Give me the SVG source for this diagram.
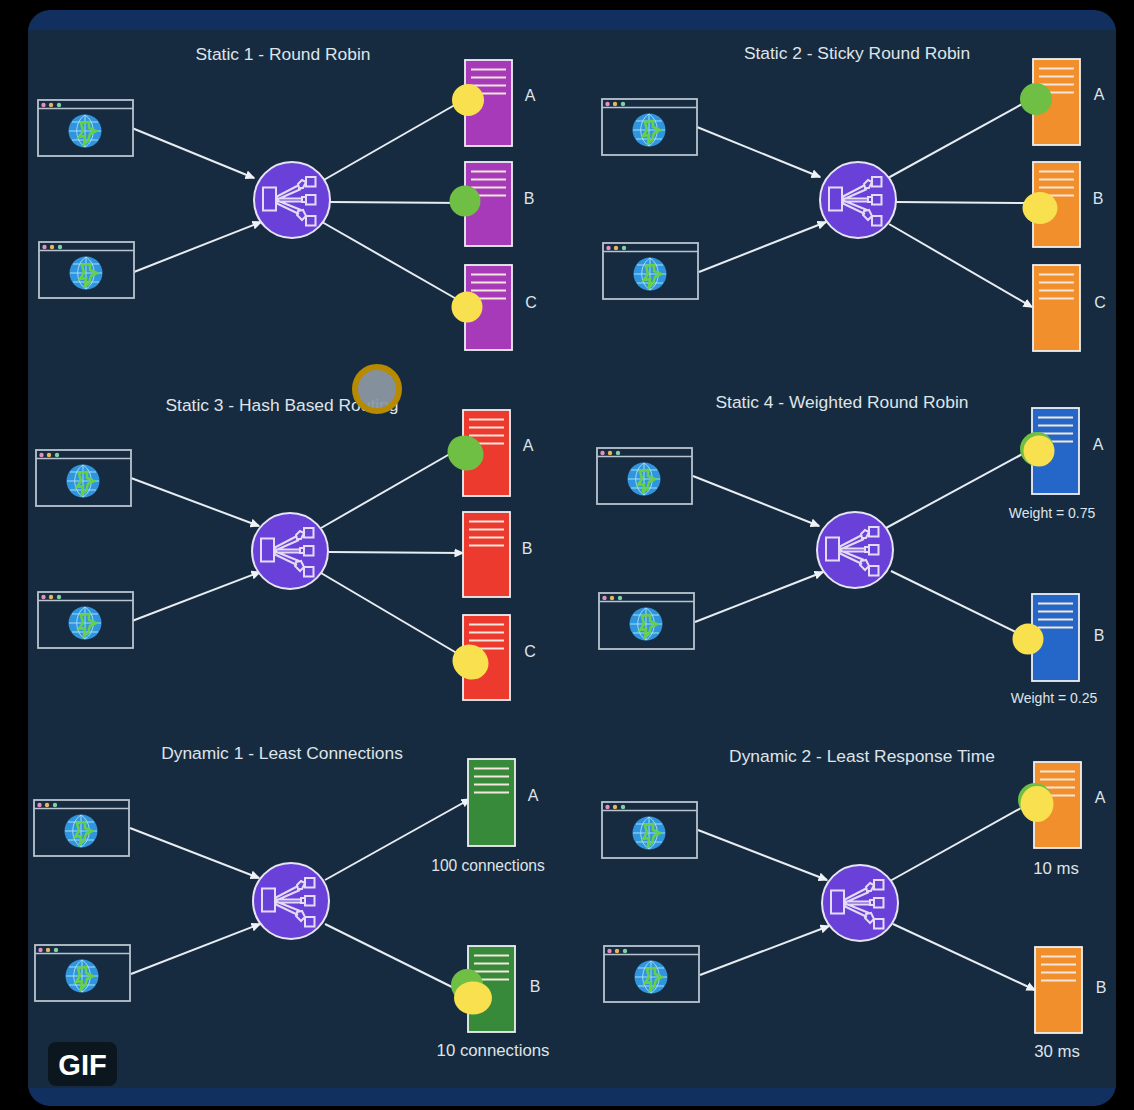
<svg xmlns="http://www.w3.org/2000/svg" xmlns:xlink="http://www.w3.org/1999/xlink" width="1134" height="1110" viewBox="0 0 1134 1110">
<style>
text{font-family:"Liberation Sans",Arial,sans-serif;fill:#dfe4e9}
.t{font-size:17.400px;text-anchor:middle}
.l{font-size:16px;text-anchor:middle}
.s{font-size:14px;text-anchor:middle}
.n{font-size:15.600px;text-anchor:middle}
.m{font-size:16.800px;text-anchor:middle}
.c{fill:none;stroke:#e8edf2;stroke-width:2;marker-end:url(#a)}
.p{fill:none;stroke:#e8edf2;stroke-width:2}
.b{fill:#172b40;stroke:#b9c4cf;stroke-width:1.800}
.sv{stroke:#eef0f2;stroke-width:1.800}
.ln{stroke:#f6e6dc;stroke-width:2;fill:none}
.y{fill:#f8e04e}.g{fill:#70bf45}
</style>
<defs>
<marker id="a" markerWidth="10" markerHeight="9" refX="8.500" refY="4.500" orient="auto" markerUnits="userSpaceOnUse"><path d="M0 0L10 4.500L0 9Z" fill="#eef2f6"/></marker>
<g id="browser">
<rect class="b" width="95" height="56"/>
<path d="M0 8.500H95" stroke="#b9c4cf" stroke-width="1.600"/>
<circle cx="5.500" cy="5" r="2.200" fill="#e58fc0"/><circle cx="13" cy="5" r="2.200" fill="#e8b65c"/><circle cx="21" cy="5" r="2.200" fill="#7fd0a8"/>
<circle cx="47" cy="31" r="16.500" fill="#2f95de"/>
<path d="M31 31H63M34 22H60M34 40H60M47 15V47M47 15C36 22 36 40 47 47M47 15C58 22 58 40 47 47" fill="none" stroke="#a5dcf5" stroke-width="1"/>
<path d="M43 23L51 22L51 28L58 31L52 34L50 41L46 44L47 36L41 37L45 31Z" fill="none" stroke="#67d04a" stroke-width="2.600"/>
</g>
<g id="lb">
<circle r="38" fill="#6a41d8" stroke="#e6e4f2" stroke-width="2"/>
<g fill="none" stroke="#e4dcf6" stroke-width="2">
<rect x="-29" y="-12.500" width="13" height="23"/>
<rect x="14" y="-23" width="9.500" height="9.500"/><rect x="14" y="-5" width="9.500" height="9.500"/><rect x="14" y="16" width="9.500" height="9.500"/>
<path d="M-16 -3L7 -15M-16 0L9 -11M-16 -1.500H10M-16 1.500H10M-16 0L9 10M-16 3L7 14"/>
<path d="M6 -16L10 -20L14 -18L11 -12L7 -12ZM10 -3H14V2H10ZM6 11L11 10L14 16L10 20L5 15Z"/>
</g>
</g>
<g id="lines"><path class="ln" d="M6 9.500H41M6 17.500H41M6 25.500H41M6 33.500H41"/></g>
</defs>
<rect width="1134" height="1110" fill="#000"/>
<rect x="28" y="10" width="1088" height="1096" rx="22" fill="#12305f"/>
<rect x="28" y="30" width="1088" height="1058" fill="#172b40"/>

<g id="connectors">
<path class="c" d="M132 128L254 178"/><path class="c" d="M134 272L261 222"/><path class="p" d="M322 181L460 102"/><path class="p" d="M330 202L465 203"/><path class="p" d="M322 222L460 301"/>
<path class="c" d="M697 127L820 177"/><path class="c" d="M699 272L826 222"/><path class="p" d="M888 178L1024 103"/><path class="p" d="M896 202L1030 203"/><path class="c" d="M889 224L1032 307"/>
<path class="c" d="M131 478L259 526"/><path class="c" d="M132 621L260 572"/><path class="p" d="M321 528L455 451"/><path class="c" d="M329 552L463 553"/><path class="p" d="M321 573L460 655"/>
<path class="c" d="M693 476L819 526"/><path class="c" d="M695 622L823 572"/><path class="p" d="M886 528L1028 451"/><path class="p" d="M891 571L1020 634"/>
<path class="c" d="M130 828L259 878"/><path class="c" d="M131 974L260 924"/><path class="c" d="M325 880L470 799"/><path class="p" d="M325 924L460 991"/>
<path class="c" d="M698 830L827 880"/><path class="c" d="M700 975L829 926"/><path class="p" d="M890 881L1030 803"/><path class="c" d="M893 924L1035 990"/>
</g>

<g id="panel1">
<text class="t" x="283" y="60">Static 1 - Round Robin</text>
<g id="p1-client1"><use href="#browser" x="38" y="100"/></g>
<g id="p1-client2"><use href="#browser" x="39" y="242"/></g>
<g id="p1-lb"><use href="#lb" x="292" y="200"/></g>
<g id="p1-a"><rect class="sv" x="465" y="60" width="47" height="86" fill="#a63ab8"/><use href="#lines" x="465" y="60"/><text class="l" x="530" y="101">A</text><circle class="y" cx="468" cy="100" r="16"/></g>
<g id="p1-b"><rect class="sv" x="465" y="162" width="47" height="84" fill="#a63ab8"/><use href="#lines" x="465" y="162"/><text class="l" x="529" y="204">B</text><circle class="g" cx="465" cy="201" r="15.500"/></g>
<g id="p1-c"><rect class="sv" x="465" y="265" width="47" height="85" fill="#a63ab8"/><use href="#lines" x="465" y="265"/><text class="l" x="531" y="308">C</text><circle class="y" cx="467" cy="307" r="15.500"/></g>
</g>

<g id="panel2">
<text class="t" x="857" y="59">Static 2 - Sticky Round Robin</text>
<g id="p2-client1"><use href="#browser" x="602" y="99"/></g>
<g id="p2-client2"><use href="#browser" x="603" y="243"/></g>
<g id="p2-lb"><use href="#lb" x="858" y="200"/></g>
<g id="p2-a"><rect class="sv" x="1033" y="59" width="47" height="86" fill="#f08f2c"/><use href="#lines" x="1033" y="59"/><text class="l" x="1099" y="100">A</text><circle class="g" cx="1036" cy="99" r="16"/></g>
<g id="p2-b"><rect class="sv" x="1033" y="162" width="47" height="85" fill="#f08f2c"/><use href="#lines" x="1033" y="162"/><text class="l" x="1098" y="204">B</text><ellipse class="y" cx="1040" cy="208" rx="17.500" ry="16"/></g>
<g id="p2-c"><rect class="sv" x="1033" y="265" width="47" height="86" fill="#f08f2c"/><use href="#lines" x="1033" y="265"/><text class="l" x="1100" y="308">C</text></g>
</g>

<g id="panel3">
<text class="t" x="282" y="411">Static 3 - Hash Based Routing</text>
<g id="p3-client1"><use href="#browser" x="36" y="450"/></g>
<g id="p3-client2"><use href="#browser" x="38" y="592"/></g>
<g id="p3-lb"><use href="#lb" x="290" y="551"/></g>
<g id="p3-a"><rect class="sv" x="463" y="410" width="47" height="86" fill="#ec3a2e"/><use href="#lines" x="463" y="410"/><text class="l" x="528" y="451">A</text><ellipse class="g" cx="465.500" cy="453" rx="18.500" ry="17" transform="rotate(35 465.500 453)"/></g>
<g id="p3-b"><rect class="sv" x="463" y="512" width="47" height="85" fill="#ec3a2e"/><use href="#lines" x="463" y="512"/><text class="l" x="527" y="554">B</text></g>
<g id="p3-c"><rect class="sv" x="463" y="615" width="47" height="85" fill="#ec3a2e"/><use href="#lines" x="463" y="615"/><text class="l" x="530" y="657">C</text><ellipse class="y" cx="470.500" cy="662" rx="18.500" ry="17" transform="rotate(35 470.500 662)"/></g>
</g>

<g id="panel4">
<text class="t" x="842" y="408">Static 4 - Weighted Round Robin</text>
<g id="p4-client1"><use href="#browser" x="597" y="448"/></g>
<g id="p4-client2"><use href="#browser" x="599" y="593"/></g>
<g id="p4-lb"><use href="#lb" x="855" y="550"/></g>
<g id="p4-a"><rect class="sv" x="1032" y="408" width="47" height="86" fill="#2467c8"/><use href="#lines" x="1032" y="408"/><text class="l" x="1098" y="450">A</text><text class="s" x="1052" y="518">Weight = 0.75</text><circle class="g" cx="1037" cy="449" r="17"/><circle class="y" cx="1039" cy="451" r="15.500"/></g>
<g id="p4-b"><rect class="sv" x="1032" y="594" width="47" height="87" fill="#2467c8"/><use href="#lines" x="1032" y="594"/><text class="l" x="1099" y="641">B</text><text class="s" x="1054" y="703">Weight = 0.25</text><circle class="y" cx="1028" cy="639" r="15.500"/></g>
</g>

<g id="panel5">
<text class="t" x="282" y="759">Dynamic 1 - Least Connections</text>
<g id="p5-client1"><use href="#browser" x="34" y="800"/></g>
<g id="p5-client2"><use href="#browser" x="35" y="945"/></g>
<g id="p5-lb"><use href="#lb" x="291" y="901"/></g>
<g id="p5-a"><rect class="sv" x="468" y="759" width="47" height="87" fill="#378a3a"/><use href="#lines" x="468" y="759"/><text class="l" x="533" y="801">A</text><text class="n" x="488" y="871">100 connections</text></g>
<g id="p5-b"><rect class="sv" x="468" y="946" width="47" height="86" fill="#378a3a"/><use href="#lines" x="468" y="946"/><text class="l" x="535" y="992">B</text><text class="m" x="493" y="1056">10 connections</text><circle class="g" cx="467" cy="985" r="16"/><ellipse class="y" cx="473" cy="998" rx="19" ry="16.500"/></g>
</g>

<g id="panel6">
<text class="t" x="862" y="762">Dynamic 2 - Least Response Time</text>
<g id="p6-client1"><use href="#browser" x="602" y="802"/></g>
<g id="p6-client2"><use href="#browser" x="604" y="946"/></g>
<g id="p6-lb"><use href="#lb" x="860" y="903"/></g>
<g id="p6-a"><rect class="sv" x="1034" y="762" width="47" height="86" fill="#f08f2c"/><use href="#lines" x="1034" y="762"/><text class="l" x="1100" y="803">A</text><text class="m" x="1056" y="874">10 ms</text><circle class="g" cx="1035" cy="800" r="17"/><ellipse class="y" cx="1037" cy="804" rx="16.500" ry="18"/></g>
<g id="p6-b"><rect class="sv" x="1035" y="947" width="47" height="86" fill="#f08f2c"/><use href="#lines" x="1035" y="947"/><text class="l" x="1101" y="993">B</text><text class="m" x="1057" y="1057">30 ms</text></g>
</g>

<g id="cursor"><circle cx="377" cy="389" r="22" fill="#8d99a4" fill-opacity=".93" stroke="#b88a00" stroke-width="6"/></g>
<g id="gif-badge"><rect x="48" y="1042" width="69" height="44" rx="8" fill="#0c161f"/><text x="82.500" y="1075" font-size="29" font-weight="700" text-anchor="middle" style="fill:#fff">GIF</text></g>
</svg>
